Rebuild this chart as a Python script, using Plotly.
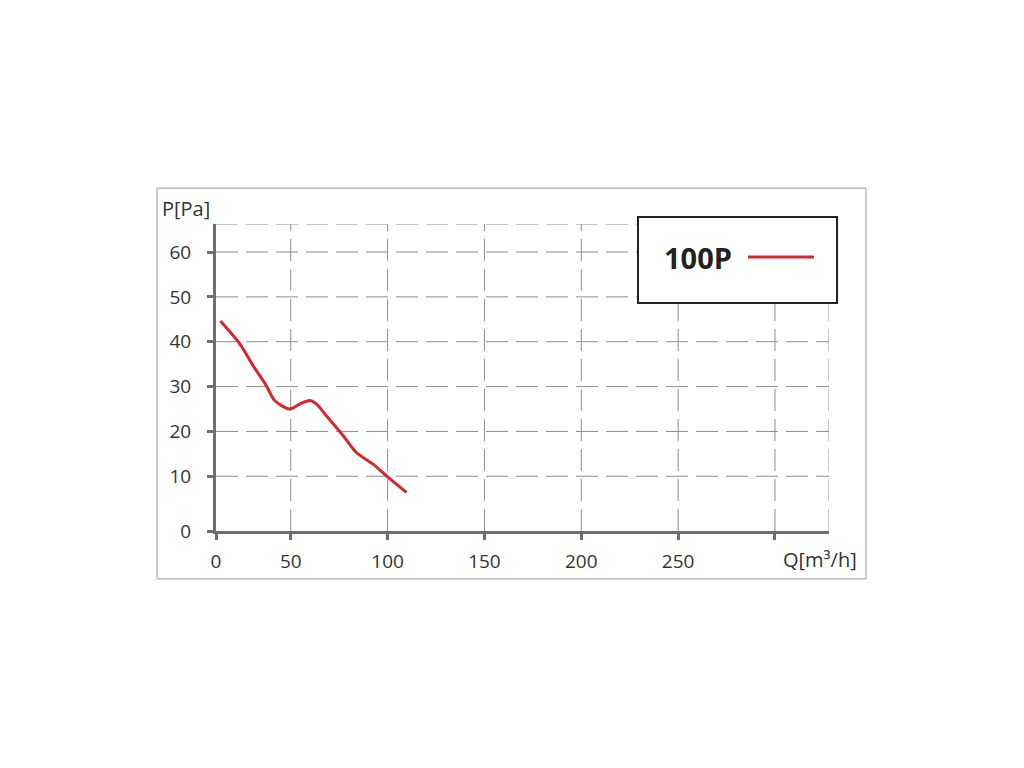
import plotly.graph_objects as go

# Data (axis units)
flow_q = [13.7, 23.7, 30.5, 37.4, 41.7, 49.5, 54.6, 59.8, 63.3, 68.4, 77.0, 83.9, 92.5, 99.4, 109.8]
pressure_p = [44.6, 39.5, 34.7, 30.2, 26.9, 25.0, 26.1, 26.9, 26.1, 23.5, 19.1, 15.3, 12.7, 10.1, 6.4]
series_name = "100P"

x_tickvals = [11.4, 50, 100, 150, 200, 250, 300]
x_ticktext = ["0", "50", "100", "150", "200", "250", ""]
y_tickvals = [-2.2, 10, 20, 30, 40, 50, 60]
y_ticktext = ["0", "10", "20", "30", "40", "50", "60"]
x_range = [11.4, 327.9]
y_range = [-2.2, 66.25]

FONT = "Open Sans"
RED = "#d7262c"
AXIS = "#6e6e6e"
GRID = "#8c8c8c"

fig = go.Figure()
fig.add_trace(go.Scatter(x=flow_q, y=pressure_p, mode="lines", name=series_name,
                         line=dict(color=RED, width=3, shape="spline", smoothing=0.8),
                         showlegend=False, hoverinfo="skip"))

fig.update_layout(
    width=1024, height=768,
    margin=dict(l=208, r=203, t=216, b=245),
    paper_bgcolor="white", plot_bgcolor="white",
    font=dict(family=FONT, size=19, color="#333333"),
    xaxis=dict(range=x_range, tickvals=x_tickvals, ticktext=x_ticktext,
               showgrid=False, zeroline=False,
               showline=True, linecolor=AXIS, linewidth=3,
               ticks="outside", ticklen=6, tickwidth=3, tickcolor=AXIS,
               ticklabelstandoff=5,
               tickfont=dict(family=FONT, size=19, color="#333333")),
    yaxis=dict(range=y_range, tickvals=y_tickvals, ticktext=y_ticktext,
               showgrid=False, zeroline=False,
               showline=True, linecolor=AXIS, linewidth=3,
               ticks="outside", ticklen=6, tickwidth=3, tickcolor=AXIS,
               ticklabelstandoff=12,
               tickfont=dict(family=FONT, size=19, color="#333333")),
)

shapes = []
# dashed grid lines
for xv in [50, 100, 150, 200, 250, 300, x_range[1]]:
    shapes.append(dict(type="line", xref="x", yref="y", x0=xv, x1=xv, y0=y_range[0], y1=y_range[1],
                       line=dict(color=GRID, width=1, dash="22px,8px"), layer="below"))
for yv in [10, 20, 30, 40, 50, 60, y_range[1]]:
    shapes.append(dict(type="line", xref="x", yref="y", x0=x_range[0], x1=x_range[1], y0=yv, y1=yv,
                       line=dict(color=GRID, width=1, dash="22px,8px"), layer="below"))
# outer frame
shapes.append(dict(type="rect", xref="paper", yref="paper", x0=-0.0962, x1=1.0604, y0=-0.156, y1=1.117,
                   line=dict(color="#9a9a9a", width=1), layer="below"))
# legend box
shapes.append(dict(type="rect", xref="paper", yref="paper", x0=0.6884, x1=1.0131, y0=0.7427, y1=1.0228,
                   line=dict(color="#222222", width=2), fillcolor="white", layer="above"))
shapes.append(dict(type="line", xref="paper", yref="paper", x0=0.8679, x1=0.9755, y0=0.8925, y1=0.8925,
                   line=dict(color=RED, width=3), layer="above"))
fig.update_layout(shapes=shapes)

fig.add_annotation(text="<b>" + series_name + "</b>", xref="paper", yref="paper", x=0.7863, y=0.8925,
                   showarrow=False, font=dict(family=FONT, size=29, color="#222222"),
                   xanchor="center", yanchor="middle")
fig.add_annotation(text="P[Pa]", xref="paper", yref="paper", x=(186 - 216) / 613, y=(531 - 208) / 307,
                   showarrow=False, font=dict(family=FONT, size=20, color="#333333"),
                   xanchor="center", yanchor="middle")
fig.add_annotation(text="Q[m³/h]", xref="paper", yref="paper", x=(820 - 216) / 613, y=(531 - 559) / 307,
                   showarrow=False, font=dict(family=FONT, size=20, color="#333333"),
                   xanchor="center", yanchor="middle")

fig.write_html("out.html")
